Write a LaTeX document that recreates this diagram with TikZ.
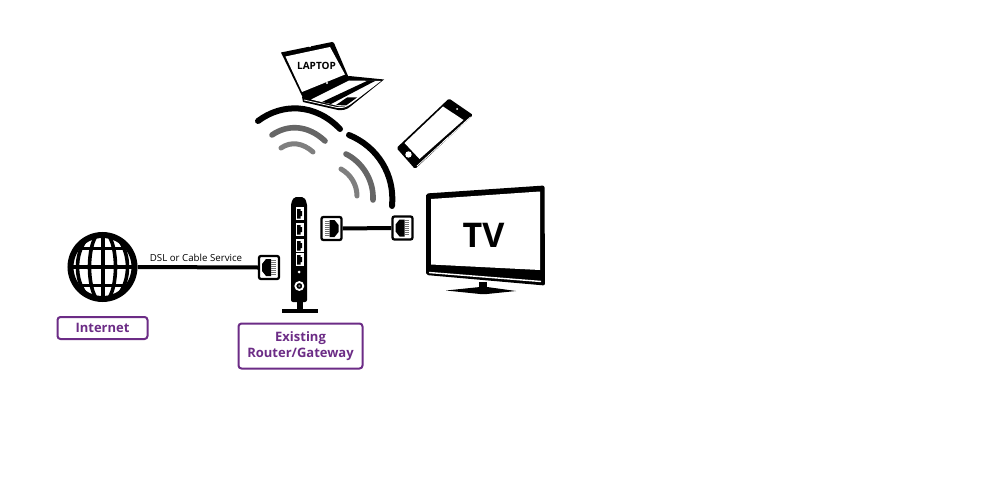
\documentclass[tikz,border=0pt]{standalone}
\usepackage{fontspec}
\setmainfont{Open Sans}
\definecolor{purp}{HTML}{6C2C86}
\definecolor{graya}{HTML}{666666}
\definecolor{grayb}{HTML}{7F7F7F}
\tikzset{
  labelbox/.style={draw=purp,line width=2pt,rounded corners=3pt,fill=white,text=purp,font=\fontsize{13}{16}\selectfont\bfseries,align=center,inner sep=0pt},
  jackbox/.style={draw=black,line width=2.3pt,rounded corners=2pt,fill=white,minimum width=20pt,minimum height=23pt,inner sep=0pt},
  cable/.style={line width=4pt,draw=black},
  wave/.style={line width=6pt,line cap=round,draw=black},
  wavemid/.style={line width=5.6pt,line cap=round,draw=graya},
  wavesmall/.style={line width=5pt,line cap=round,draw=grayb},
}
\newcommand{\jackart}[3]{%
  \begin{scope}[shift={(#1,#2)},xscale=#3]
    \fill[black] (2,-8.5) -- (-3,-8.5) -- (-7,-3.5) -- (-7,3.5) -- (-3,8.5) -- (2,8.5) -- cycle;
    \foreach \yy in {-7.5,-5.5,-3.5,-1.5,0.5,2.5,4.5,6.5} \draw[line width=0.9pt,black!55] (2,\yy) -- (6.5,\yy);
  \end{scope}}
\begin{document}
\begin{tikzpicture}[x=1pt,y=-1pt]
\useasboundingbox (0,0) rectangle (1000,500);
\fill[white] (0,0) rectangle (1000,500);

% globe
\node[circle,minimum size=70pt,inner sep=0pt] (globe) at (102.5,267) {};
\begin{scope}
  \clip (102.5,267) circle (33);
  \draw[line width=4pt] (102.5,232) -- (102.5,302);
  \draw[line width=3.6pt] (102.5,267) ellipse (13 and 36);
  \draw[line width=3.6pt] (102.5,267) ellipse (25 and 36);
  \draw[line width=3.6pt] (66,267) -- (139,267);
  \draw[line width=3.4pt] (66,248.5) -- (139,248.5);
  \draw[line width=3.4pt] (66,285.5) -- (139,285.5);
\end{scope}
\draw[line width=6pt] (102.5,267) circle (32);

% jacks
\node[jackbox] (jackA) at (269,267.5) {};
\node[jackbox] (jackB) at (331.5,228.5) {};
\node[jackbox] (jackC) at (402.5,228) {};
\jackart{269}{267.5}{1}
\jackart{331.5}{228.5}{-1}
\jackart{402.5}{228}{1}
\draw[cable] (globe.east) -- (jackA.west);
\draw[cable] (jackB.east) -- (jackC.west);
\node[font=\fontsize{9.7}{11}\selectfont,inner sep=0pt] (dsl) at (196,257.5) {DSL or Cable Service};

% router
\fill[black,rounded corners=2pt] (291,302) -- (291,203) -- (294,197) -- (304,197) -- (307,203) -- (307,302) -- cycle;
\fill[black] (297,300) rectangle (302.5,310);
\fill[black] (282,309) rectangle (317.5,313);
\foreach \ya/\yb in {207/220,223/236,239/252,253/266}{
  \fill[white] (295.5,\ya) rectangle (303.5,\yb);
  \fill[black] (297,\ya+2) -- (300.5,\ya+2) -- (300.5,\ya+4) -- (302.2,\ya+4) -- (302.2,\yb-4) -- (300.5,\yb-4) -- (300.5,\yb-1.5) -- (297,\yb-1.5) -- cycle;
}
\fill[white] (299,272) circle (1.5);
\draw[white,line width=1.8pt] (299.3,286) circle (4);
\fill[grayb] (299.3,286) circle (1.2);

% waves
\draw[wave] (258,121) .. controls (282,103) and (315,103) .. (340,129);
\draw[wave] (349,135) .. controls (378,147) and (395,175) .. (392,206);
\draw[wavemid] (272,135) .. controls (288,124) and (308,125) .. (325,141);
\draw[wavemid] (346,154) .. controls (362,162) and (374,180) .. (373,200);
\draw[wavesmall] (281,148) .. controls (291,141) and (303,143) .. (313,152);
\draw[wavesmall] (341,169) .. controls (350,174) and (357,184) .. (357,196);

% laptop
\fill[black] (281,52.5) -- (332,42) -- (334,43) -- (348.5,77) -- (303,98) -- cycle;
\fill[white] (285.5,56.5) -- (330,47) -- (345,74.5) -- (302,92) -- cycle;
\fill[white] (310,46.5) circle (0.9);
\fill[white] (327,83) circle (1.2);
\fill[black] (302,97) -- (349,76) -- (384,79.5) -- (351,106) .. controls (347,110) and (342,110.5) .. (338,110) -- (303,102) -- cycle;
\draw[white,line width=0.8pt] (304,100) -- (337,107.5) .. controls (343,108) and (346,107) .. (350,104);
\fill[white] (311,99.5) -- (349,80.5) -- (381,81) -- (351,104) .. controls (348,106) and (344,106.5) .. (340,106.5) -- cycle;
\fill[black] (322,102) -- (368,80.5) -- (375,81) -- (331,104) -- cycle;
\fill[black] (336,105) -- (347,97.5) -- (357,97.5) -- (346,105.5) -- cycle;
\node[font=\fontsize{10}{12}\selectfont\bfseries,inner sep=0pt] (laptop) at (316.5,66) {LAPTOP};

% phone
\fill[black,rounded corners=1.5pt] (449,98.5) -- (473,115) -- (415,169) -- (396.5,148) -- cycle;
\fill[white] (443,106.5) -- (463.5,120) -- (419.5,159) -- (404.5,143) -- cycle;
\draw[white,line width=0.8pt] (470.5,117) -- (417,166);
\fill[white] (408.5,154.5) circle (3.2);
\fill[white] (457,109) circle (1);
\draw[white,line width=0.8pt] (443,142) -- (448,137.5);

% tv
\fill[black,rounded corners=2pt] (426,193.5) -- (544.5,185.5) -- (545,285.5) -- (426,275) -- cycle;
\fill[white] (431,199) -- (540,191.5) -- (540,270) -- (431,264.5) -- cycle;
\draw[white,line width=1.4pt] (429,272.5) -- (541,281.5);
\fill[black] (479,282) rectangle (487,290);
\fill[black] (446,290.5) -- (480,287) -- (487,287) -- (516,291) -- (487,294) -- (480,294) -- cycle;
\node[font=\fontsize{34}{38}\selectfont\bfseries,inner sep=0pt] (tv) at (483.5,235) {TV};

% labels
\node[labelbox,minimum width=90pt,minimum height=22pt] (internet) at (102.5,328) {Internet};
\node[labelbox,minimum width=124pt,minimum height=45pt] (router) at (300.5,346) {Existing\\Router/Gateway};
\end{tikzpicture}
\end{document}
